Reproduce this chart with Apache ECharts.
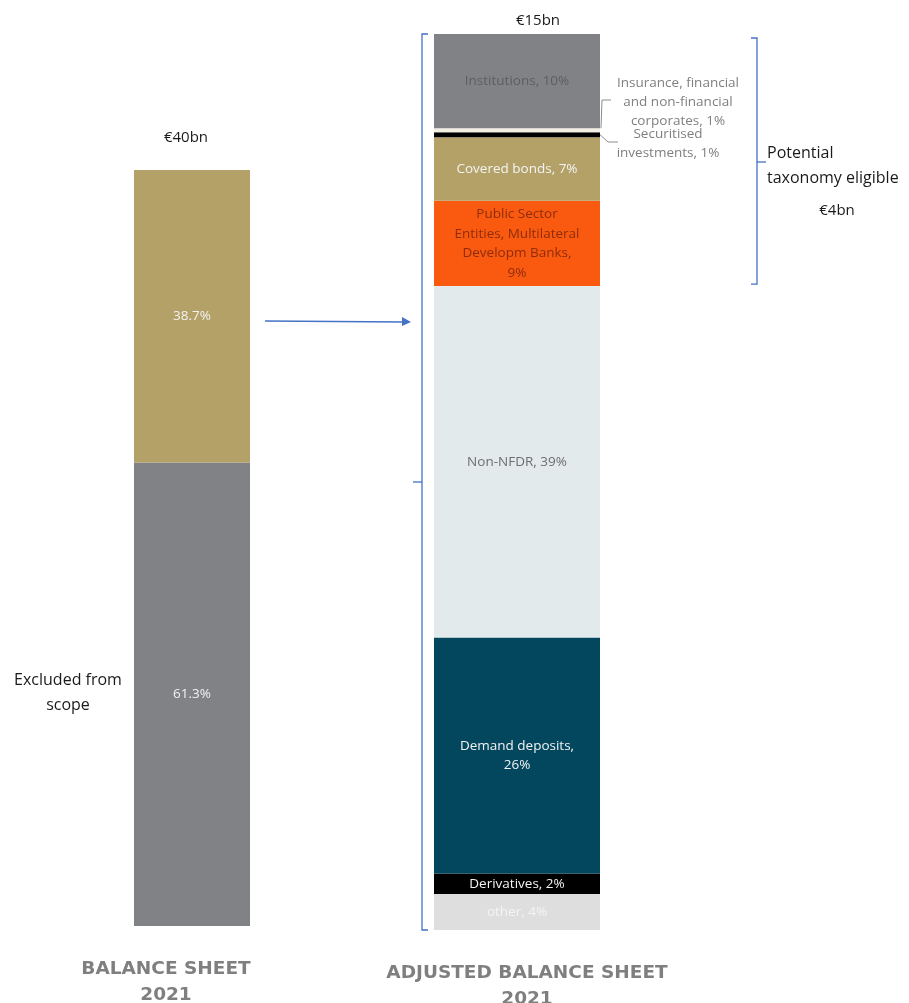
<!DOCTYPE html>
<html>
<head>
<meta charset="utf-8">
<script src="https://cdn.jsdelivr.net/npm/echarts@6/dist/echarts.min.js"></script>
<style>
html,body{margin:0;padding:0;background:#fff;}
#c{width:909px;height:1003px;}
</style>
</head>
<body>
<div id="c"></div>
<script>
// ---- data ----
const leftCategories = ['BALANCE SHEET\n2021'];
const rightCategories = ['ADJUSTED BALANCE SHEET\n2021'];

const leftNames = ['Excluded from scope', 'In scope'];
const leftValues = [61.3, 38.7];
const leftLabels = ['61.3%', '38.7%'];

const rightNames = ['other', 'Derivatives', 'Demand deposits', 'Non-NFDR',
  'Public Sector Entities, Multilateral Developm Banks', 'Covered bonds',
  'Securitised investments', 'Insurance, financial and non-financial corporates', 'Institutions'];
const rightValues = [4.0, 2.3, 26.3, 39.2, 9.5, 7.1, 0.55, 0.45, 10.5];
const rightLabels = ['other, 4%', 'Derivatives, 2%', 'Demand deposits,\n26%', 'Non-NFDR, 39%',
  'Public Sector\nEntities, Multilateral\nDevelopm Banks,\n9%', 'Covered bonds, 7%',
  'Securitised\ninvestments, 1%', 'Insurance, financial\nand non-financial\ncorporates, 1%', 'Institutions, 10%'];

const totalLabels = ['€40bn', '€15bn'];
const noteExcluded = 'Excluded from\nscope';
const noteEligible = 'Potential\ntaxonomy eligible';
const noteEligibleAmount = '€4bn';

// ---- styles ----
const leftColors = ['#818286', '#B3A168'];
const leftTextColors = ['#F2F2F2', '#F2F2F2'];
const rightColors = ['#DEDEDE', '#000000', '#02475E', '#E3EAEC', '#FA5A0F', '#B3A168', '#000000', '#F3EFE3', '#818286'];
const rightTextColors = ['#F4F4F4', '#F2F2F2', '#F2F2F2', '#6E6E6E', '#8E2C0C', '#F4F4F4', '#7F7F7F', '#7F7F7F', '#5E5E5E'];
const FONT = '"Open Sans", Lato, sans-serif';
const LFONT = '"Open Sans", Lato, sans-serif';
const BLUE = '#4472C4';

const chart = echarts.init(document.getElementById('c'), null, {renderer: 'canvas'});

const rightSum = rightValues.reduce((a, b) => a + b, 0);

function catLabel(pad) {
  return {
    fontFamily: '"DejaVu Sans", sans-serif', fontWeight: 'bold', fontSize: 18.5,
    color: '#7F7F7F', margin: 30, lineHeight: 26, padding: pad
  };
}

const series = [];
leftValues.forEach((v, i) => {
  series.push({
    name: leftNames[i], type: 'bar', stack: 'L', xAxisIndex: 0, yAxisIndex: 0,
    barWidth: '100%', data: [v],
    itemStyle: {color: leftColors[i]},
    label: {show: true, position: 'inside', formatter: leftLabels[i],
      color: leftTextColors[i], fontFamily: LFONT, fontSize: 13.5},
    emphasis: {disabled: true}, silent: true
  });
});
rightValues.forEach((v, i) => {
  const lbl = {show: true, position: 'inside', formatter: rightLabels[i],
    color: rightTextColors[i], fontFamily: LFONT, fontSize: 13.5, lineHeight: 19.5};
  if (i === 7) { // insurance
    Object.assign(lbl, {position: 'right', distance: 0, align: 'center', verticalAlign: 'middle',
      offset: [78, -28], fontSize: 13.5, lineHeight: 19});
  }
  if (i === 6) { // securitised
    Object.assign(lbl, {position: 'right', distance: 0, align: 'center', verticalAlign: 'middle',
      offset: [68, 9], fontSize: 13.5, lineHeight: 19});
  }
  series.push({
    name: rightNames[i], type: 'bar', stack: 'R', xAxisIndex: 1, yAxisIndex: 1,
    barWidth: '100%', data: [v],
    itemStyle: {color: rightColors[i]},
    label: lbl,
    emphasis: {disabled: true}, silent: true
  });
});

const option = {
  animation: false,
  backgroundColor: '#fff',
  grid: [
    {left: 134, top: 170, width: 116, height: 756, outerBoundsMode: 'none', containLabel: false},
    {left: 434, top: 34, width: 166, height: 896, outerBoundsMode: 'none', containLabel: false}
  ],
  xAxis: [
    {type: 'category', gridIndex: 0, data: leftCategories, axisLine: {show: false}, axisTick: {show: false}, axisLabel: catLabel([0, 52, 0, 0])},
    {type: 'category', gridIndex: 1, data: rightCategories, axisLine: {show: false}, axisTick: {show: false}, axisLabel: catLabel([0, 0, 0, 20])}
  ],
  yAxis: [
    {type: 'value', gridIndex: 0, min: 0, max: 100, show: false, splitLine: {show: false}},
    {type: 'value', gridIndex: 1, min: 0, max: rightSum, show: false, splitLine: {show: false}}
  ],
  series: series
};
chart.setOption(option);

// ---- annotations positioned from the axes ----
function py(axisIdx, v) { return chart.convertToPixel({yAxisIndex: axisIdx}, v); }
const cum = [];
let acc = 0;
rightValues.forEach(v => { cum.push(acc); acc += v; }); // bottom of each segment
const rTop = py(1, rightSum), rBottom = py(1, 0);
const lTop = py(0, 100);
const rLeft = 434, rRight = 600, lLeft = 134, lRight = 250;

const eligTop = rTop + 4;
const eligBottom = py(1, cum[4]) - 2;
const eligMid = 162;
const insMidTop = py(1, cum[7] + rightValues[7]);
const secY = py(1, cum[6] + rightValues[6] / 2);

const lineStyle = {stroke: BLUE, lineWidth: 1.3, fill: null};
const g = [];
// left bracket around adjusted bar
g.push({type: 'polyline', shape: {points: [[rLeft - 6, rTop], [rLeft - 12, rTop], [rLeft - 12, rBottom], [rLeft - 6, rBottom]]}, style: lineStyle, silent: true});
const lbMid = (rTop + rBottom) / 2;
g.push({type: 'line', shape: {x1: rLeft - 12, y1: lbMid, x2: rLeft - 21, y2: lbMid}, style: lineStyle, silent: true});
// right bracket for taxonomy eligible
g.push({type: 'polyline', shape: {points: [[751, eligTop], [757, eligTop], [757, eligBottom], [751, eligBottom]]}, style: lineStyle, silent: true});
g.push({type: 'line', shape: {x1: 757, y1: eligMid, x2: 766, y2: eligMid}, style: lineStyle, silent: true});
// arrow
const arrowY = 321;
g.push({type: 'line', shape: {x1: lRight + 15, y1: arrowY, x2: rLeft - 30, y2: arrowY + 1}, style: lineStyle, silent: true});
g.push({type: 'polygon', shape: {points: [[rLeft - 32, arrowY - 4], [rLeft - 23, arrowY + 1], [rLeft - 32, arrowY + 5]]}, style: {fill: BLUE}, silent: true});
// leader lines for small segments
const leadStyle = {stroke: '#8C8C8C', lineWidth: 1, fill: null};
g.push({type: 'polyline', shape: {points: [[rRight + 1, insMidTop], [rRight + 2, 100], [rRight + 11, 100]]}, style: leadStyle, silent: true});
g.push({type: 'polyline', shape: {points: [[rRight, secY], [rRight + 8, 142], [rRight + 18, 142]]}, style: leadStyle, silent: true});
// totals
g.push({type: 'text', x: (lLeft + lRight) / 2 - 6, y: lTop - 32, style: {text: totalLabels[0], font: '15px ' + FONT, fill: '#1A1A1A', align: 'center', verticalAlign: 'middle'}, silent: true});
g.push({type: 'text', x: (rLeft + rRight) / 2 + 21, y: rTop - 13, style: {text: totalLabels[1], font: '15px ' + FONT, fill: '#1A1A1A', align: 'center', verticalAlign: 'middle'}, silent: true});
// notes
g.push({type: 'text', x: 68, y: 693, style: {text: noteExcluded, font: '16px ' + FONT, fill: '#1A1A1A', align: 'center', verticalAlign: 'middle', lineHeight: 25}, silent: true});
g.push({type: 'text', x: 767, y: 166, style: {text: noteEligible, font: '16px ' + FONT, fill: '#1A1A1A', align: 'left', verticalAlign: 'middle', lineHeight: 25}, silent: true});
g.push({type: 'text', x: 837, y: 211, style: {text: noteEligibleAmount, font: '15px ' + FONT, fill: '#1A1A1A', align: 'center', verticalAlign: 'middle'}, silent: true});

chart.setOption({graphic: g});
</script>
</body>
</html>
